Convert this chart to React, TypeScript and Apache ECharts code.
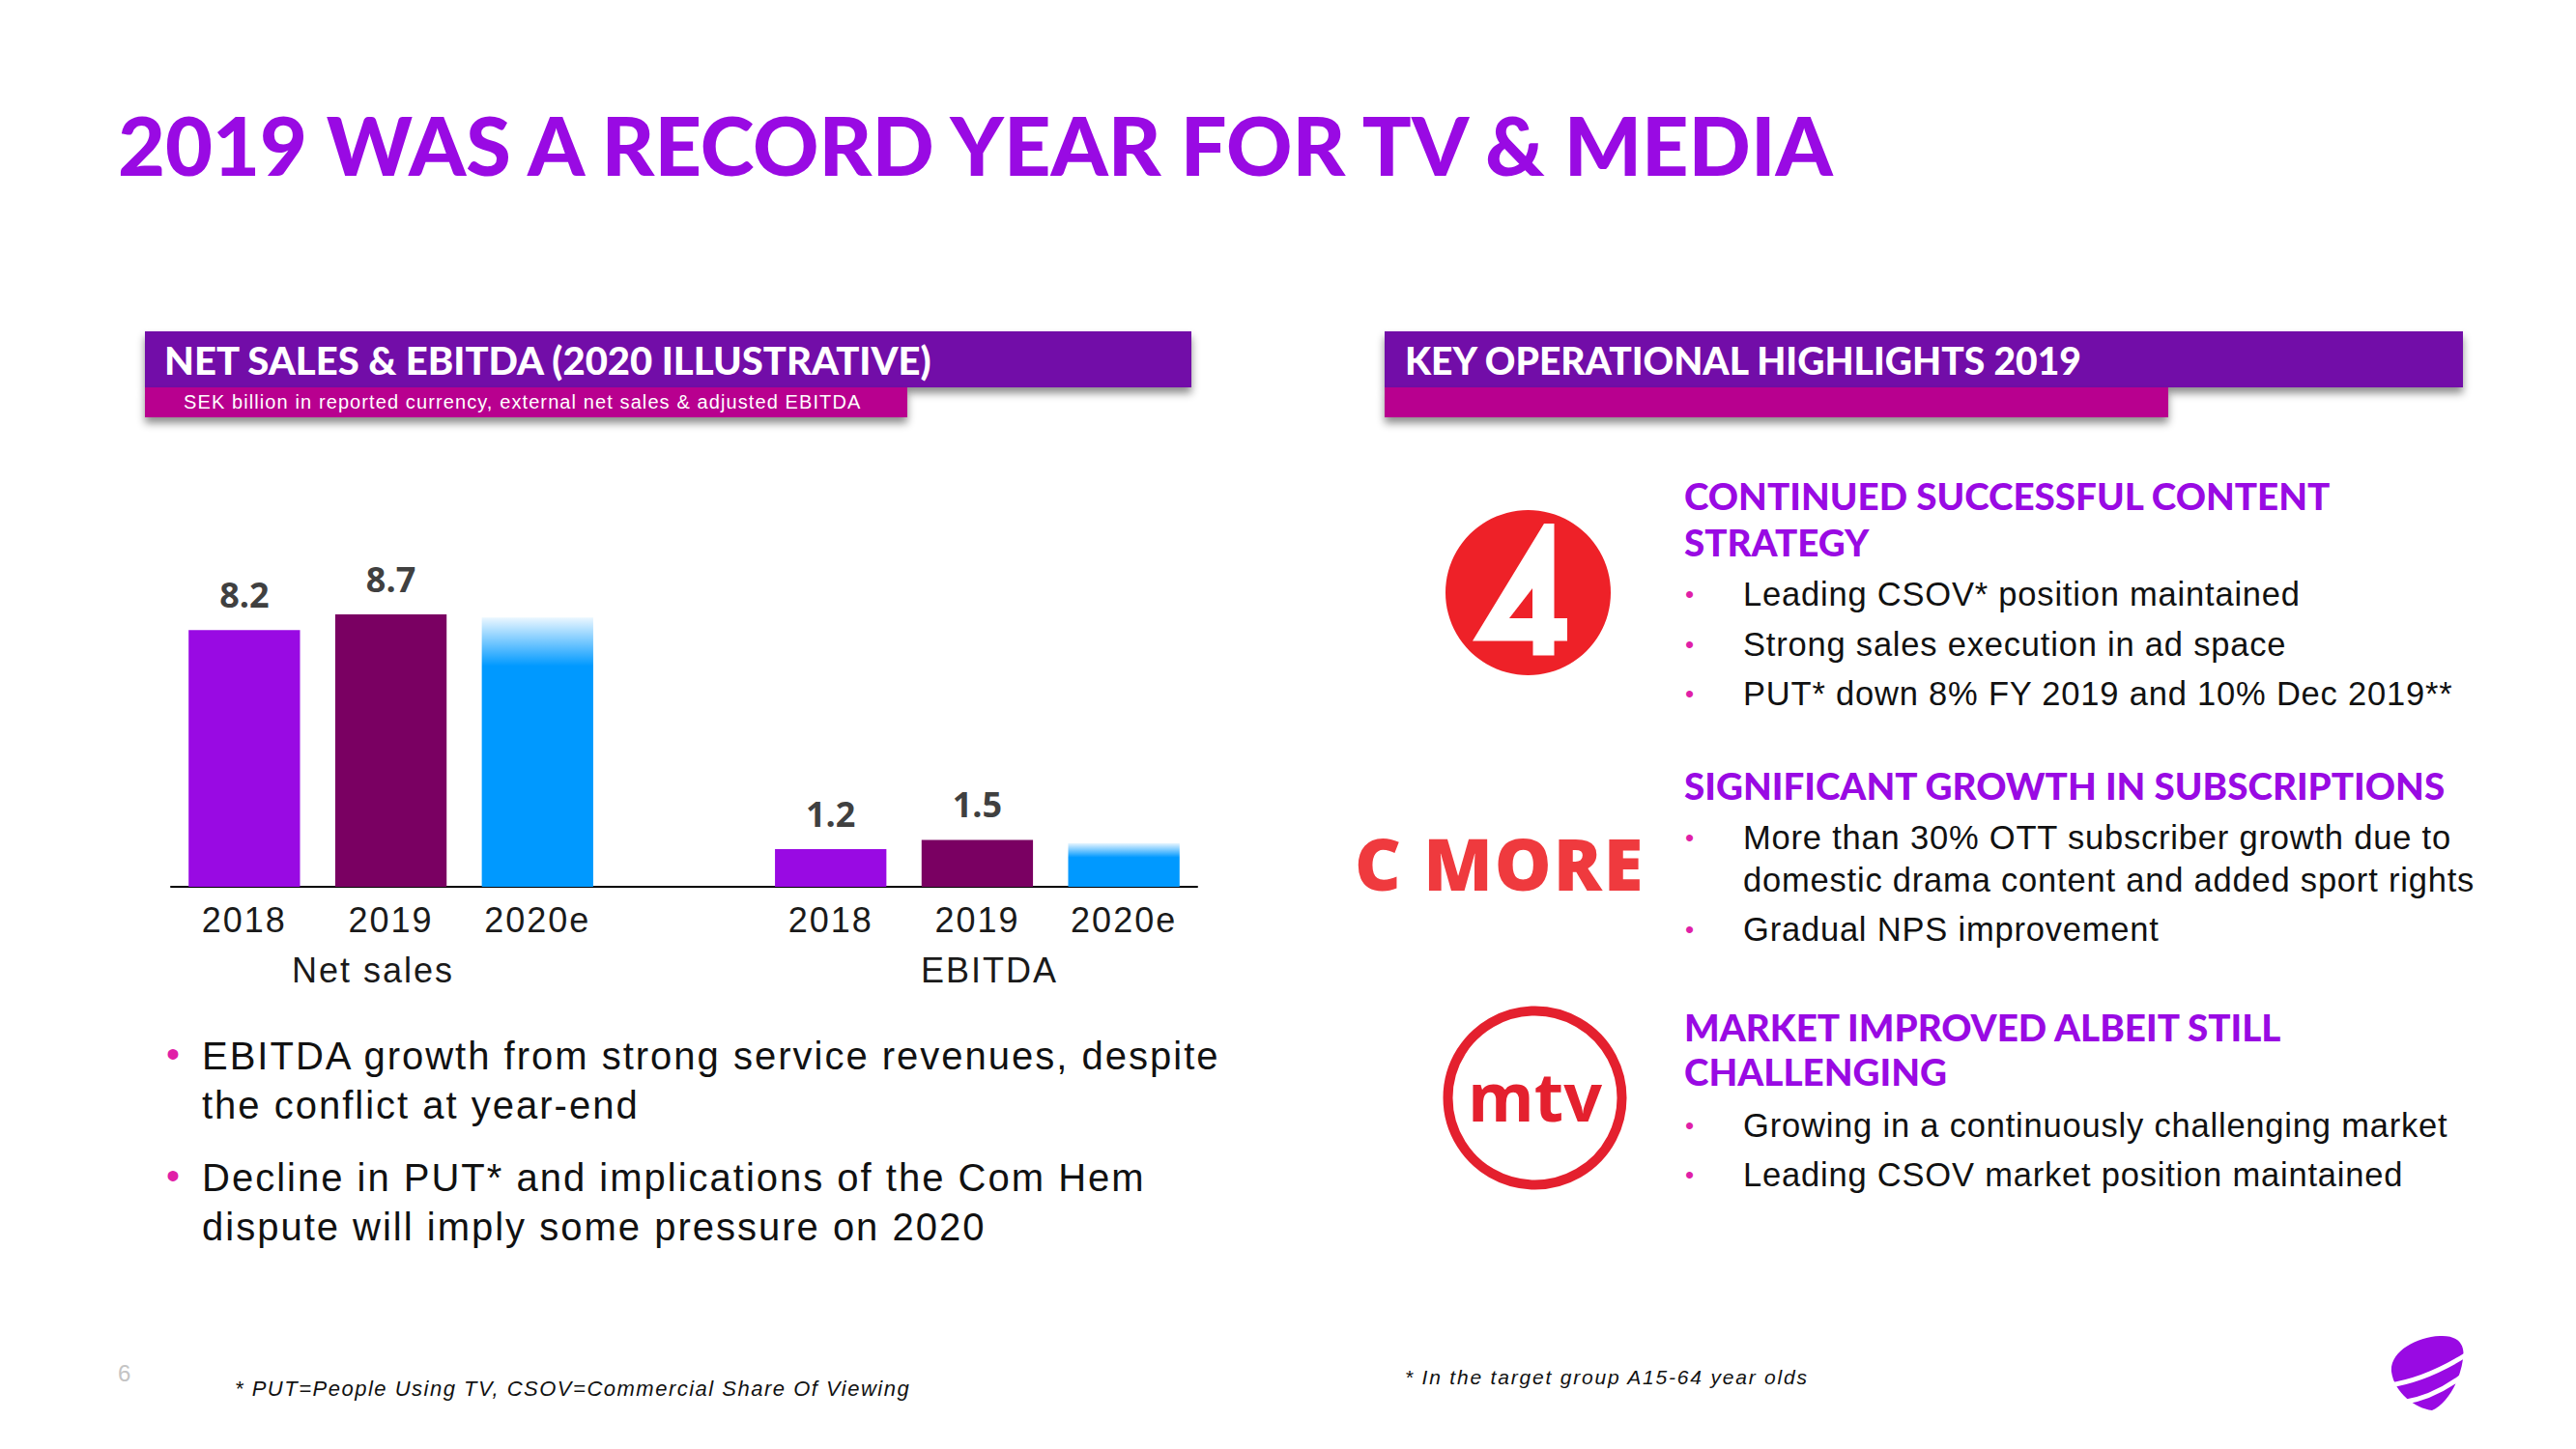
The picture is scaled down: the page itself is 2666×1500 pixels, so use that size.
import React, { useEffect, useRef } from "react";
import * as echarts from "echarts";

// ---------- data ----------
const categories = ["2018", "2019", "2020e", "", "2018", "2019", "2020e"];
const netSales = [8.2, 8.7, 8.6];
const ebitda = [1.2, 1.5, 1.4];
const groupLabels = ["Net sales", "EBITDA"];
const yearColors = ["#990AE3", "#7A0062", "#0099FF"];

const titleText = "2019 WAS A RECORD YEAR FOR TV & MEDIA";
const leftHeader = "NET SALES & EBITDA (2020 ILLUSTRATIVE)";
const leftSub = "SEK billion in reported currency, external net sales & adjusted EBITDA";
const rightHeader = "KEY OPERATIONAL HIGHLIGHTS 2019";
const leftBullets = [
  ["EBITDA growth from strong service revenues, despite", "the conflict at year-end"],
  ["Decline in PUT* and implications of the Com Hem", "dispute will imply some pressure on 2020"],
];
const rightHeadings = [
  ["CONTINUED SUCCESSFUL CONTENT", "STRATEGY"],
  ["SIGNIFICANT GROWTH IN SUBSCRIPTIONS"],
  ["MARKET IMPROVED ALBEIT STILL", "CHALLENGING"],
];
const rightBullets = [
  [["Leading CSOV* position maintained"], ["Strong sales execution in ad space"], ["PUT* down 8% FY 2019 and 10% Dec 2019**"]],
  [["More than 30% OTT subscriber growth due to", "domestic drama content and added sport rights"], ["Gradual NPS improvement"]],
  [["Growing in a continuously challenging market"], ["Leading CSOV market position maintained"]],
];
const footLeft = "* PUT=People Using TV, CSOV=Commercial Share Of Viewing";
const footRight = "* In the target group A15-64 year olds";
const pageNo = "6";

// ---------- styles ----------
const PURPLE = "#990AE3";
const HEADER_BG = "#7209A8";
const SUB_BG = "#B8008F";
const PINK = "#E01FA8";
const RED = "#EE2128";
const HEAD_FONT = "Lato";
const BODY_FONT = "Liberation Sans";

echarts.graphic.registerShape(
  "teliaEgg",
  echarts.graphic.extendPath(
    "M5 40 C3 20 30 4 55 3 C72 2 82 10 79 27 C76 50 62 74 47 80 C30 78 8 62 5 40 Z",
    {}
  )
);

const spacing: Record<string, number> = {};
leftBullets.flat().forEach((t) => (spacing[t] = 2));
rightBullets.flat(2).forEach((t) => (spacing[t] = 0.8));
categories.forEach((t) => t && (spacing[t] = 2));
groupLabels.forEach((t) => (spacing[t] = 2));
spacing[leftSub] = 1.1;
spacing[footLeft] = 1.5;
spacing[footRight] = 1.8;
spacing["C MORE"] = 2;

function barItem(v: number, i: number, fadeStop: number) {
  const est = i === 2;
  return {
    value: v,
    itemStyle: {
      color: est
        ? new echarts.graphic.LinearGradient(0, 0, 0, 1, [
            { offset: 0, color: "rgba(0,153,255,0.08)" },
            { offset: fadeStop, color: yearColors[2] },
            { offset: 1, color: yearColors[2] },
          ])
        : yearColors[i],
    },
    label: { show: !est },
  };
}

function txt(text: string, x: number, y: number, style: any, extra: any = {}) {
  return {
    type: "text",
    x,
    y,
    silent: true,
    style: { text, textVerticalAlign: "middle", ...style },
    ...extra,
  };
}

function buildGraphics() {
  const g: any[] = [];
  // title
  g.push(txt(titleText, 122, 149, { fill: PURPLE, font: `900 84.5px ${HEAD_FONT}` }));

  // header boxes
  const shadow = { shadowColor: "rgba(0,0,0,0.45)", shadowBlur: 8, shadowOffsetY: 6, shadowOffsetX: 0 };
  g.push({ type: "rect", shape: { x: 150, y: 343, width: 1083, height: 58 }, style: { fill: HEADER_BG, ...shadow } });
  g.push({ type: "rect", shape: { x: 150, y: 401, width: 789, height: 31 }, style: { fill: SUB_BG, ...shadow } });
  g.push({ type: "rect", shape: { x: 1433, y: 343, width: 1116, height: 58 }, style: { fill: HEADER_BG, ...shadow } });
  g.push({ type: "rect", shape: { x: 1433, y: 401, width: 811, height: 31 }, style: { fill: SUB_BG, ...shadow } });
  g.push(txt(leftHeader, 170, 373, { fill: "#fff", font: `900 40px ${HEAD_FONT}` }));
  g.push(txt(leftSub, 190, 416, { fill: "#fff", font: `20px ${BODY_FONT}` }));
  g.push(txt(rightHeader, 1454, 373, { fill: "#fff", font: `900 39px ${HEAD_FONT}` }));

  // group labels under the axis
  g.push(txt(groupLabels[0], 386, 1004, { fill: "#1a1a1a", font: `36px ${BODY_FONT}`, textAlign: "center" }));
  g.push(txt(groupLabels[1], 1024, 1004, { fill: "#1a1a1a", font: `36px ${BODY_FONT}`, textAlign: "center" }));

  // left bullets
  const lbY = [1093, 1219];
  leftBullets.forEach((lines, bi) => {
    g.push(txt("•", 172, lbY[bi] - 2, { fill: PINK, font: `40px ${BODY_FONT}` }));
    lines.forEach((ln, li) =>
      g.push(txt(ln, 209, lbY[bi] + li * 51, { fill: "#111", font: `40px ${BODY_FONT}` }))
    );
  });

  // right column
  const headY = [[513, 561], [813], [1063, 1109]];
  const bulY = [[[615], [667], [718]], [[867, 911], [962]], [[1165], [1216]]];
  rightHeadings.forEach((lines, si) => {
    lines.forEach((ln, li) =>
      g.push(txt(ln, 1743, headY[si][li], { fill: PURPLE, font: `900 38.6px ${HEAD_FONT}` }))
    );
    rightBullets[si].forEach((blines, bi) => {
      g.push(txt("•", 1744, bulY[si][bi][0], { fill: PINK, font: `26px ${BODY_FONT}` }));
      blines.forEach((ln, li) =>
        g.push(txt(ln, 1804, bulY[si][bi][li], { fill: "#111", font: `34.5px ${BODY_FONT}` }))
      );
    });
  });

  // TV4 logo
  g.push({ type: "circle", shape: { cx: 1581.5, cy: 613.5, r: 85.5 }, style: { fill: RED } });
  g.push({
    type: "polygon",
    shape: {
      points: [
        [1598, 542], [1608.5, 542], [1608.5, 640], [1622, 640], [1622, 663.5], [1608.5, 663.5],
        [1608.5, 678.5], [1586.5, 678.5], [1586.5, 663.5], [1524, 663.5],
      ],
    },
    style: { fill: "#fff" },
  });
  g.push({ type: "polygon", shape: { points: [[1586, 609], [1586, 640], [1562, 640]] }, style: { fill: RED } });

  // C MORE logo
  g.push(txt("C MORE", 1402, 893, { fill: "#EF3A3E", font: `800 74px "Open Sans"` }));

  // MTV logo
  g.push({ type: "circle", shape: { cx: 1588.5, cy: 1136.5, r: 90 }, style: { fill: "none", stroke: "#E4202E", lineWidth: 10 } });
  g.push(txt("mtv", 1588.5, 1134, { fill: "#E4202E", font: `700 70px "Open Sans"`, textAlign: "center" }));

  // footer
  g.push(txt(pageNo, 122, 1421, { fill: "#C4C4C4", font: `24px ${BODY_FONT}` }));
  g.push(txt(footLeft, 243, 1437, { fill: "#111", font: `italic 22px ${BODY_FONT}` }));
  g.push(txt(footRight, 1454, 1425, { fill: "#111", font: `italic 21px ${BODY_FONT}` }));

  // Telia logo
  g.push({ type: "teliaEgg", x: 2470, y: 1380, style: { fill: PURPLE } });
  g.push({ type: "bezierCurve", shape: { x1: 2472, y1: 1434, cpx1: 2510, cpy1: 1429, x2: 2553, y2: 1402 }, style: { stroke: "#fff", lineWidth: 5, fill: "none" } });
  g.push({ type: "bezierCurve", shape: { x1: 2486, y1: 1452, cpx1: 2520, cpy1: 1447, x2: 2553, y2: 1421 }, style: { stroke: "#fff", lineWidth: 5, fill: "none" } });
  return g;
}

export default function App() {
  const ref = useRef<HTMLDivElement>(null);
  useEffect(() => {
    if (!ref.current) return;
    const chart = echarts.init(ref.current, undefined, { renderer: "svg" });
    const data: any[] = [
      ...netSales.map((v, i) => barItem(v, i, 0.18)),
      { value: "-" },
      ...ebitda.map((v, i) => barItem(v, i, 0.33)),
    ];
    const option: any = {
      animation: false,
      backgroundColor: "#ffffff",
      grid: { left: 177, top: 594, width: 1062, height: 324 },
      xAxis: {
        type: "category",
        data: categories,
        axisLine: { lineStyle: { color: "#000", width: 2 } },
        axisTick: { show: false },
        axisLabel: { fontSize: 36, fontFamily: BODY_FONT, color: "#1a1a1a", margin: 16 },
      },
      yAxis: { type: "value", min: 0, max: 10, show: false, splitLine: { show: false } },
      series: [
        {
          type: "bar",
          barCategoryGap: "24%",
          data,
          label: {
            show: true,
            position: "top",
            distance: 19,
            fontSize: 36,
            fontWeight: "bold",
            fontFamily: "Open Sans",
            color: "#404040",
          },
        },
      ],
      graphic: buildGraphics(),
    };
    const applySpacing = () => {
      const el = ref.current;
      if (!el) return;
      el.querySelectorAll("text").forEach((t) => {
        const s = spacing[t.textContent || ""];
        if (s !== undefined) t.setAttribute("letter-spacing", s + "px");
      });
    };
    chart.on("finished", applySpacing);
    chart.setOption(option);
    applySpacing();
    const raf = requestAnimationFrame(applySpacing);
    const to = setTimeout(applySpacing, 50);
    return () => {
      cancelAnimationFrame(raf);
      clearTimeout(to);
      chart.dispose();
    };
  }, []);
  return (
    <div
      ref={ref}
      style={{ position: "absolute", left: 0, top: 0, width: 2666, height: 1500, background: "#fff" }}
    />
  );
}
